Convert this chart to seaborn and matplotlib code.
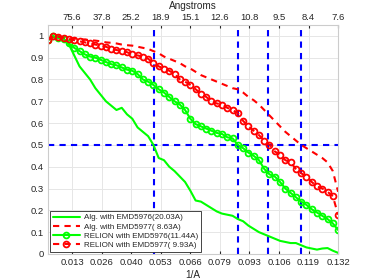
#IMPORTING NECESSARY LIBRARIES
import matplotlib
matplotlib.use('Agg')
import matplotlib.pyplot as plt
import numpy as np
import pandas as pd
import seaborn as sns

#FREQUENCY SAMPLES (56 SHELLS UP TO NYQUIST 1/7.56 A)
nyquist = 1 / 7.56
freq = np.arange(1, 57) * nyquist / 56

#FSC CURVES
alg5976 = [0.98, 0.995, 0.99, 0.985, 0.96, 0.91, 0.86, 0.83, 0.80, 0.76,
           0.73, 0.70, 0.68, 0.66, 0.67, 0.64, 0.62, 0.58, 0.56, 0.54,
           0.50, 0.44, 0.43, 0.40, 0.38, 0.355, 0.33, 0.29, 0.245, 0.24,
           0.225, 0.21, 0.195, 0.185, 0.18, 0.175, 0.16, 0.15, 0.13, 0.115,
           0.10, 0.09, 0.08, 0.07, 0.06, 0.055, 0.05, 0.05, 0.04, 0.03,
           0.025, 0.02, 0.025, 0.027, 0.015, 0.005]
alg5977 = [0.985, 0.995, 0.995, 0.99, 0.99, 0.988, 0.985, 0.983, 0.98, 0.978,
           0.975, 0.97, 0.968, 0.965, 0.96, 0.957, 0.955, 0.95, 0.945, 0.94,
           0.93, 0.92, 0.905, 0.895, 0.885, 0.875, 0.86, 0.85, 0.835, 0.82,
           0.81, 0.80, 0.79, 0.78, 0.77, 0.76, 0.755, 0.74, 0.72, 0.705,
           0.685, 0.66, 0.635, 0.61, 0.585, 0.56, 0.54, 0.52, 0.50, 0.485,
           0.47, 0.455, 0.44, 0.42, 0.38, 0.285]
relion5976 = [0.98, 1.0, 0.99, 0.985, 0.965, 0.945, 0.93, 0.915, 0.905, 0.90,
              0.89, 0.88, 0.87, 0.865, 0.855, 0.845, 0.84, 0.825, 0.80, 0.79,
              0.775, 0.755, 0.74, 0.72, 0.70, 0.685, 0.66, 0.62, 0.595, 0.585,
              0.575, 0.565, 0.555, 0.55, 0.535, 0.53, 0.50, 0.485, 0.465, 0.45,
              0.43, 0.39, 0.365, 0.355, 0.33, 0.30, 0.28, 0.26, 0.24, 0.225,
              0.205, 0.19, 0.175, 0.16, 0.14, 0.11]
relion5977 = [0.98, 1.0, 0.995, 0.99, 0.985, 0.98, 0.975, 0.97, 0.965, 0.96,
              0.955, 0.95, 0.94, 0.935, 0.93, 0.925, 0.915, 0.91, 0.905, 0.895,
              0.875, 0.86, 0.85, 0.84, 0.825, 0.80, 0.79, 0.775, 0.755, 0.735,
              0.72, 0.70, 0.69, 0.685, 0.67, 0.66, 0.645, 0.61, 0.585, 0.565,
              0.545, 0.52, 0.50, 0.47, 0.455, 0.43, 0.42, 0.39, 0.37, 0.355,
              0.33, 0.31, 0.30, 0.285, 0.265, 0.18]

#RESOLUTIONS AT FSC=0.5 (ANGSTROM)
resolutions = [20.03, 11.44, 9.93, 8.63]

#TICK LABELS
bottomLabels = ['0.013', '0.026', '0.040', '0.053', '0.066', '0.079', '0.093', '0.106', '0.119', '0.132']
topLabels = ['75.6', '37.8', '25.2', '18.9', '15.1', '12.6', '10.8', '9.5', '8.4', '7.6']
tickPos = np.arange(1, 11) / 75.6

#STYLE
sns.set_style('whitegrid')
plt.rcParams['font.family'] = ['Liberation Sans', 'DejaVu Sans']
plt.rcParams['font.size'] = 6.8

fig = plt.figure(figsize=(3.74, 2.8), dpi=100)
ax = fig.add_axes([0.128, 0.093, 0.776, 0.818])

df = pd.DataFrame({'f': freq, 'a76': alg5976, 'a77': alg5977, 'r76': relion5976, 'r77': relion5977})

dash = (0, (3, 2.5))
sns.lineplot(data=df, x='f', y='a76', ax=ax, color=(0, 1, 0), lw=1.5,
             label='Alg. with EMD5976(20.03A)')
sns.lineplot(data=df, x='f', y='a77', ax=ax, color=(1, 0, 0), lw=1.5, linestyle=dash,
             label='Alg. with EMD5977( 8.63A)')
sns.lineplot(data=df, x='f', y='r76', ax=ax, color=(0, 1, 0), lw=1.5, marker='o', ms=4.2,
             markerfacecolor='none', markeredgecolor=(0, 1, 0), markeredgewidth=1.3,
             label='RELION with EMD5976(11.44A)')
sns.lineplot(data=df, x='f', y='r77', ax=ax, color=(1, 0, 0), lw=1.5, linestyle=dash, marker='o', ms=4.2,
             markerfacecolor='none', markeredgecolor=(1, 0, 0), markeredgewidth=1.3,
             label='RELION with EMD5977( 9.93A)')

#RESOLUTION MARKERS
for r in resolutions:
    ax.axvline(1 / r, color=(0, 0, 1), lw=1.5, linestyle=dash, zorder=1)
ax.axhline(0.5, color=(0, 0, 1), lw=1.5, linestyle=dash, zorder=1)

ax.set_xlim(freq[0], freq[-1])
ax.set_ylim(0, 1.05)
ax.set_xticks(tickPos)
ax.set_xticklabels(bottomLabels)
ax.set_yticks(np.arange(0, 1.01, 0.1))
ax.set_yticklabels(['0'] + [f'{v:.1f}' for v in np.arange(0.1, 0.95, 0.1)] + ['1'])
ax.set_xlabel('1/A', labelpad=2, fontsize=7.2)
ax.set_ylabel('')
ax.grid(True, color='#e6e6e6', lw=0.7)
ax.tick_params(axis='both', length=2, direction='in', colors='#262626', pad=3)
for s in ax.spines.values():
    s.set_color('#262626')
    s.set_linewidth(0.6)

#TOP AXIS IN ANGSTROMS
top = ax.twiny()
top.set_xlim(ax.get_xlim())
top.set_xticks(tickPos)
top.set_xticklabels(topLabels)
top.set_xlabel('Angstroms', labelpad=3, fontsize=7.2)
top.grid(False)
top.tick_params(axis='x', length=2, direction='in', colors='#262626', pad=2)

leg = ax.legend(loc='lower left', fontsize=5.8, handlelength=3.4, borderaxespad=0.3,
                frameon=True, fancybox=False, edgecolor='#262626', framealpha=1,
                borderpad=0.3, labelspacing=0.2, handletextpad=0.5)
leg.get_frame().set_linewidth(0.6)

fig.savefig('out.png', dpi=100)
